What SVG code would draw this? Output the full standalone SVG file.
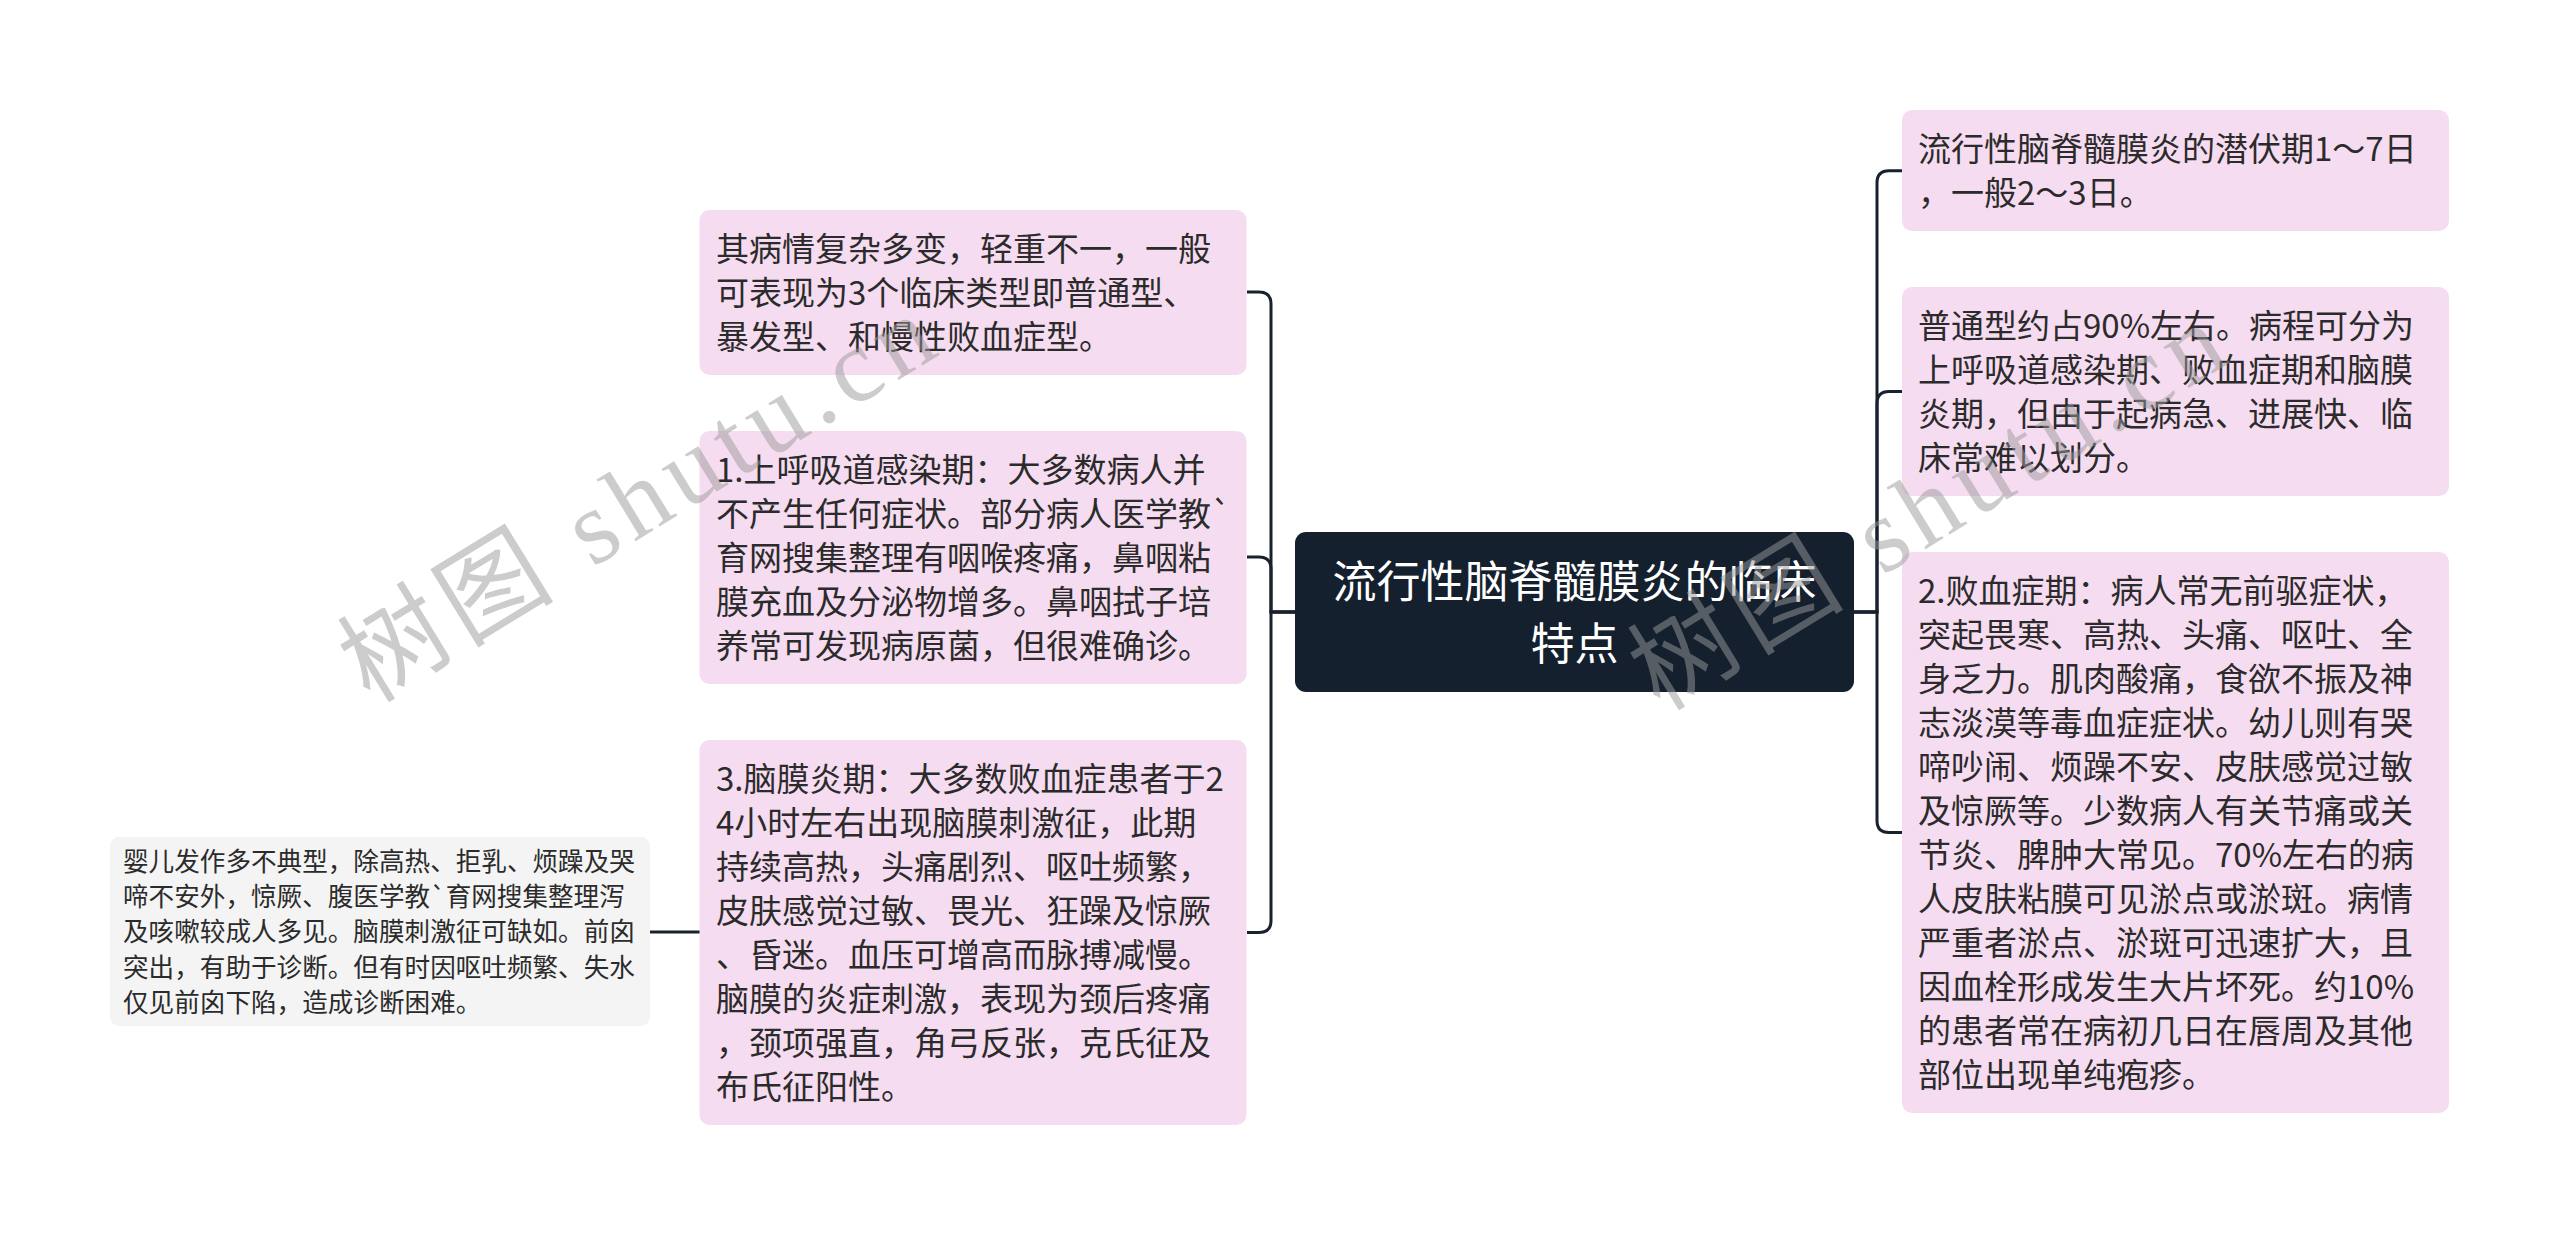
<svg xmlns="http://www.w3.org/2000/svg" width="2560" height="1236" viewBox="0 0 2560 1236">
<style>
.pink{fill:#f6dcf0}
.grey{fill:#f4f4f4}
.root{fill:#15202e}
.t{font-family:"Noto Sans CJK SC","Noto Sans",sans-serif;font-size:33px;fill:#2b2b2b}
.ts{font-family:"Noto Sans CJK SC","Noto Sans",sans-serif;font-size:25.6px;fill:#2b2b2b}
.tr{font-family:"Noto Sans CJK SC","Noto Sans",sans-serif;font-size:44px;fill:#ffffff;text-anchor:middle}
.c{fill:none;stroke:#18212e;stroke-width:3}
.wm{font-family:"Liberation Serif","Noto Sans CJK SC",serif;font-size:105px;fill:#9a9a9a;fill-opacity:0.5}
</style>
<rect width="2560" height="1236" fill="#ffffff"/>
<g id="connectors">
<path class="c" d="M1296,612 H1271 V304 Q1271,292 1259,292 H1247"/>
<path class="c" d="M1296,612 H1271 V569 Q1271,557 1259,557 H1247"/>
<path class="c" d="M1296,612 H1271 V920.5 Q1271,932.5 1259,932.5 H1247"/>
<path class="c" d="M700,932 H650"/>
<path class="c" d="M1853,612 H1877 V182.7 Q1877,170.7 1889,170.7 H1902"/>
<path class="c" d="M1853,612 H1877 V403.5 Q1877,391.5 1889,391.5 H1902"/>
<path class="c" d="M1853,612 H1877 V820.5 Q1877,832.5 1889,832.5 H1902"/>
</g>
<g id="root">
<rect class="root" x="1295" y="532" width="559" height="160" rx="11"/>
<text class="tr" x="1574.5" y="598"><tspan x="1574.5">流行性脑脊髓膜炎的临床</tspan><tspan x="1574.5" dy="62">特点</tspan></text>
</g>
<g id="nodeA">
<rect class="pink" x="699.5" y="210" width="547" height="165" rx="10"/>
<text class="t" y="261"><tspan x="716">其病情复杂多变，轻重不一，一般</tspan><tspan x="716" dy="44">可表现为3个临床类型即普通型、</tspan><tspan x="716" dy="44">暴发型、和慢性败血症型。</tspan></text>
</g>
<g id="nodeB">
<rect class="pink" x="699.5" y="431" width="547" height="253" rx="10"/>
<text class="t" y="482"><tspan x="716">1.上呼吸道感染期：大多数病人并</tspan><tspan x="716" dy="44">不产生任何症状。部分病人医学教`</tspan><tspan x="716" dy="44">育网搜集整理有咽喉疼痛，鼻咽粘</tspan><tspan x="716" dy="44">膜充血及分泌物增多。鼻咽拭子培</tspan><tspan x="716" dy="44">养常可发现病原菌，但很难确诊。</tspan></text>
</g>
<g id="nodeC">
<rect class="pink" x="699.5" y="740" width="547" height="385" rx="10"/>
<text class="t" y="791"><tspan x="716">3.脑膜炎期：大多数败血症患者于2</tspan><tspan x="716" dy="44">4小时左右出现脑膜刺激征，此期</tspan><tspan x="716" dy="44">持续高热，头痛剧烈、呕吐频繁，</tspan><tspan x="716" dy="44">皮肤感觉过敏、畏光、狂躁及惊厥</tspan><tspan x="716" dy="44">、昏迷。血压可增高而脉搏减慢。</tspan><tspan x="716" dy="44">脑膜的炎症刺激，表现为颈后疼痛</tspan><tspan x="716" dy="44">，颈项强直，角弓反张，克氏征及</tspan><tspan x="716" dy="44">布氏征阳性。</tspan></text>
</g>
<g id="nodeInfant">
<rect class="grey" x="110" y="837" width="540" height="189" rx="9"/>
<text class="ts" y="871"><tspan x="123">婴儿发作多不典型，除高热、拒乳、烦躁及哭</tspan><tspan x="123" dy="35.2">啼不安外，惊厥、腹医学教`育网搜集整理泻</tspan><tspan x="123" dy="35.2">及咳嗽较成人多见。脑膜刺激征可缺如。前囟</tspan><tspan x="123" dy="35.2">突出，有助于诊断。但有时因呕吐频繁、失水</tspan><tspan x="123" dy="35.2">仅见前囟下陷，造成诊断困难。</tspan></text>
</g>
<g id="nodeR1">
<rect class="pink" x="1902" y="110" width="547" height="121" rx="10"/>
<text class="t" y="161"><tspan x="1918">流行性脑脊髓膜炎的潜伏期1～7日</tspan><tspan x="1918" dy="44">，一般2～3日。</tspan></text>
</g>
<g id="nodeR2">
<rect class="pink" x="1902" y="287" width="547" height="209" rx="10"/>
<text class="t" y="338"><tspan x="1918">普通型约占90%左右。病程可分为</tspan><tspan x="1918" dy="44">上呼吸道感染期、败血症期和脑膜</tspan><tspan x="1918" dy="44">炎期，但由于起病急、进展快、临</tspan><tspan x="1918" dy="44">床常难以划分。</tspan></text>
</g>
<g id="nodeR3">
<rect class="pink" x="1902" y="552" width="547" height="561" rx="10"/>
<text class="t" y="603"><tspan x="1918">2.败血症期：病人常无前驱症状，</tspan><tspan x="1918" dy="44">突起畏寒、高热、头痛、呕吐、全</tspan><tspan x="1918" dy="44">身乏力。肌肉酸痛，食欲不振及神</tspan><tspan x="1918" dy="44">志淡漠等毒血症症状。幼儿则有哭</tspan><tspan x="1918" dy="44">啼吵闹、烦躁不安、皮肤感觉过敏</tspan><tspan x="1918" dy="44">及惊厥等。少数病人有关节痛或关</tspan><tspan x="1918" dy="44">节炎、脾肿大常见。70%左右的病</tspan><tspan x="1918" dy="44">人皮肤粘膜可见淤点或淤斑。病情</tspan><tspan x="1918" dy="44">严重者淤点、淤斑可迅速扩大，且</tspan><tspan x="1918" dy="44">因血栓形成发生大片坏死。约10%</tspan><tspan x="1918" dy="44">的患者常在病初几日在唇周及其他</tspan><tspan x="1918" dy="44">部位出现单纯疱疹。</tspan></text>
</g>
<g id="watermarks">
<text class="wm" transform="translate(370,704) rotate(-31.5)" textLength="670" lengthAdjust="spacing">树图 shutu.cn</text>
<text class="wm" transform="translate(1660,712) rotate(-31.5)" textLength="670" lengthAdjust="spacing">树图 shutu.cn</text>
</g>
</svg>
